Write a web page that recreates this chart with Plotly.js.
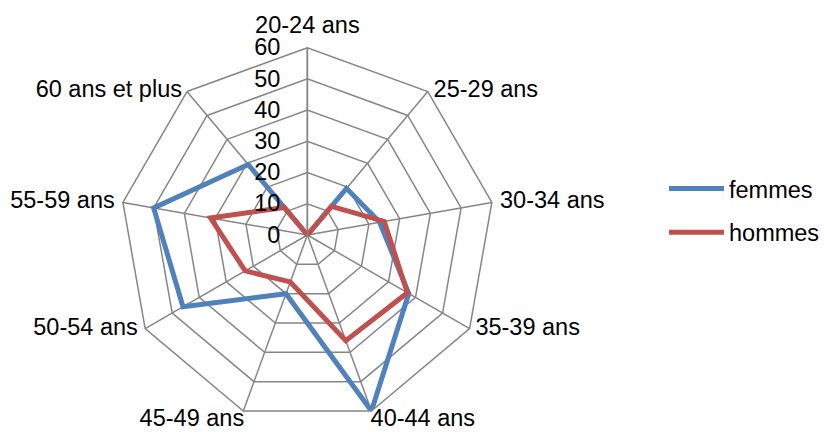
<!DOCTYPE html>
<html>
<head>
<meta charset="utf-8">
<script src="https://cdn.plot.ly/plotly-3.0.1.min.js"></script>
<style>html,body{margin:0;padding:0;background:#fff;}#chart{width:825px;height:432px;}</style>
</head>
<body>
<div id="chart"></div>
<script>
const categories = ["20-24 ans","25-29 ans","30-34 ans","35-39 ans","40-44 ans","45-49 ans","50-54 ans","55-59 ans","60 ans et plus"];
const femmes = [0, 19.5, 23.5, 37.5, 60, 20, 46, 50, 29.5];
const hommes = [0, 12, 25, 37, 36, 16, 23, 31.5, 11.5];
const radialTicks = [0, 10, 20, 30, 40, 50, 60];
const radialMax = 60;
const labelPositions = ["top center","middle right","middle right","middle right","bottom right","bottom left","middle left","middle left","middle left"];
const labelPads = [12.8, 7.7, 11.5, 7.7, 0, 0, 10.2, 11.5, 6.4];

function closed(arr){ return arr.concat([arr[0]]); }

const font = "Liberation Sans, Arial, sans-serif";
const grid = "#868686";
const fs = 23.5;
// bottom labels sit a touch inside the outer ring so they stay within the page
const labelRadius = labelPositions.map(p => p.indexOf("bottom") === 0 ? radialMax - 0.8 : radialMax);

const traces = [
  {type:"scatterpolar", mode:"lines", name:"femmes", r:closed(femmes), theta:closed(categories),
   line:{color:"#4F81BD", width:5}, legendgroup:"f"},
  {type:"scatterpolar", mode:"lines", name:"hommes", r:closed(hommes), theta:closed(categories),
   line:{color:"#C0504D", width:5}, legendgroup:"h"},
  {type:"scatterpolar", mode:"text+markers", showlegend:false, hoverinfo:"skip", cliponaxis:false,
   r:labelRadius, theta:categories, text:categories,
   marker:{size:labelPads, color:"rgba(0,0,0,0)", opacity:0},
   textposition:labelPositions, textfont:{family:font, size:fs, color:"#000"}}
];

const layout = {
  width:825, height:432,
  margin:{l:0,r:0,t:0,b:0},
  paper_bgcolor:"#fff",
  font:{family:font, size:fs, color:"#000"},
  showlegend:true,
  legend:{x:0.808, y:0.512, xanchor:"left", yanchor:"middle", font:{family:font, size:fs, color:"#000"},
          itemwidth:55, tracegroupgap:10, traceorder:"grouped", bgcolor:"rgba(0,0,0,0)"},
  polar:{
    domain:{x:[120.5/825, 496.5/825], y:[9/432, 385/432]},
    bgcolor:"#fff",
    gridshape:"linear",
    radialaxis:{range:[0,radialMax], tickvals:radialTicks, angle:90, showline:true, linecolor:grid, linewidth:1.5,
      gridcolor:grid, gridwidth:1.5, ticks:"outside", ticklen:18, tickcolor:"rgba(0,0,0,0)",
      side:"counterclockwise", tickangle:90, tickfont:{family:font, size:fs, color:"#000"}},
    angularaxis:{direction:"clockwise", rotation:90, showline:true, linecolor:grid, linewidth:1.5,
      gridcolor:grid, gridwidth:1.5, ticks:"", showticklabels:false}
  }
};

Plotly.newPlot("chart", traces, layout, {staticPlot:true, displayModeBar:false});
</script>
</body>
</html>
